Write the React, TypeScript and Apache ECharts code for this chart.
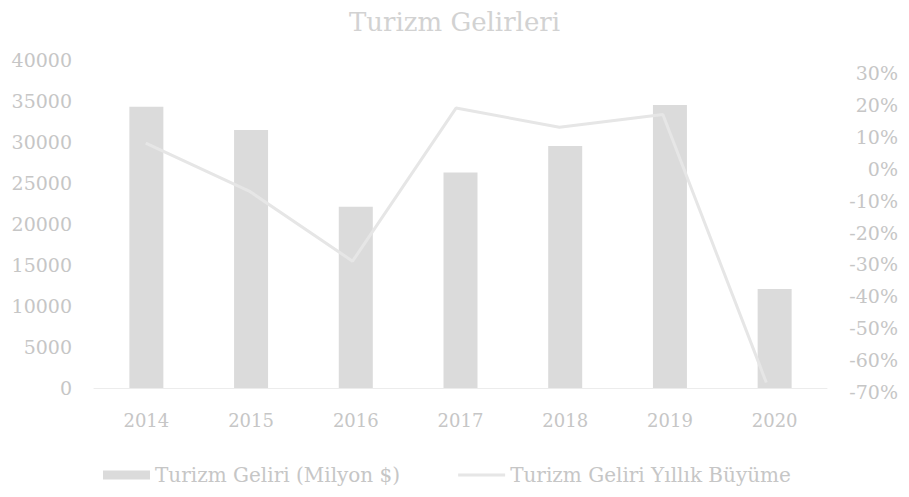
import React, { useEffect, useRef } from "react";
import * as echarts from "echarts";

const years = ["2014", "2015", "2016", "2017", "2018", "2019", "2020"];
const revenue = [34306, 31465, 22107, 26284, 29513, 34520, 12059];
const growth = [8, -7, -29, 19, 13, 17, -67];

const textColor = "#c6c6c6";
const fontFamily = "'DejaVu Serif', 'Liberation Serif', serif";

export default function App() {
  const ref = useRef<HTMLDivElement>(null);

  useEffect(() => {
    if (!ref.current) return;
    const chart = echarts.init(ref.current, undefined, { renderer: "svg" });
    chart.setOption({
      animation: false,
      backgroundColor: "#ffffff",
      textStyle: { fontFamily },
      title: {
        text: "Turizm Gelirleri",
        left: "center",
        top: 1,
        padding: 0,
        textStyle: { color: "#d2d2d2", fontSize: 26, fontWeight: "normal", fontFamily },
      },
      legend: {
        top: 452,
        left: 90,
        itemGap: 58,
        itemWidth: 47,
        itemHeight: 9,
        textStyle: { color: textColor, fontSize: 20, fontFamily },
        data: [
          { name: "Turizm Geliri (Milyon $)", icon: "rect" },
          { name: "Turizm Geliri Yıllık Büyüme", icon: "path://M0 0H100V6H0Z" },
        ],
      },
      grid: [
        { left: 86, right: 74, top: 52, bottom: 101 },
        { left: 86, right: 74, top: 65, bottom: 97 },
      ],
      xAxis: [
        {
          type: "category",
          gridIndex: 0,
          data: years,
          axisLine: { show: true, lineStyle: { color: "#ececec" } },
          axisTick: { show: false },
          axisLabel: { color: textColor, fontSize: 18, margin: 23, fontFamily },
        },
        {
          type: "category",
          gridIndex: 1,
          data: years,
          show: false,
        },
      ],
      yAxis: [
        {
          type: "value",
          gridIndex: 0,
          min: 0,
          max: 40000,
          interval: 5000,
          splitLine: { show: false },
          axisLine: { show: false },
          axisTick: { show: false },
          axisLabel: {
            color: textColor,
            fontSize: 19,
            margin: 22,
            formatter: (v: number) => String(v),
            fontFamily,
          },
        },
        {
          type: "value",
          gridIndex: 1,
          position: "right",
          min: -70,
          max: 30,
          interval: 10,
          splitLine: { show: false },
          axisLine: { show: false },
          axisTick: { show: false },
          axisLabel: {
            color: textColor,
            fontSize: 19,
            margin: 80,
            align: "right",
            formatter: "{value}%",
            fontFamily,
          },
        },
      ],
      series: [
        {
          name: "Turizm Geliri (Milyon $)",
          type: "bar",
          xAxisIndex: 0,
          yAxisIndex: 0,
          data: revenue,
          barWidth: 34,
          itemStyle: { color: "#dbdbdb" },
        },
        {
          name: "Turizm Geliri Yıllık Büyüme",
          type: "line",
          xAxisIndex: 1,
          yAxisIndex: 1,
          data: growth,
          symbol: "none",
          lineStyle: { color: "#e6e6e6", width: 3 },
          itemStyle: { color: "#e6e6e6" },
        },
      ],
    });
    return () => chart.dispose();
  }, []);

  return <div ref={ref} style={{ width: 893, height: 481 }} />;
}
